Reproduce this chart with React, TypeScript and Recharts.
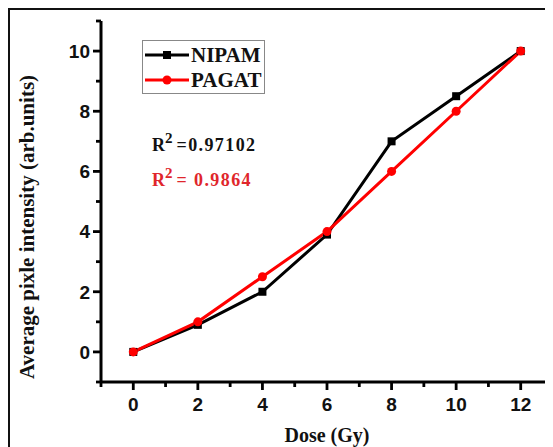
import { Line, LineChart, XAxis, YAxis } from "recharts";

const doses = [0, 2, 4, 6, 8, 10, 12];
const nipam = [0, 0.9, 2, 3.9, 7, 8.5, 10];
const pagat = [0, 1, 2.5, 4, 6, 8, 10];
const xTicks = [-1, 0, 1, 2, 3, 4, 5, 6, 7, 8, 9, 10, 11, 12, 13];
const yTicks = [-1, 0, 1, 2, 3, 4, 5, 6, 7, 8, 9, 10, 11];
const xLabelTicks = [0, 2, 4, 6, 8, 10, 12];
const yLabelTicks = [0, 2, 4, 6, 8, 10];

const data = doses.map((dose, i) => ({ dose, nipam: nipam[i], pagat: pagat[i] }));

const RED = "#ff0000";
const serif = "'Liberation Serif', 'Times New Roman', serif";
const sans = "'Liberation Sans', Arial, sans-serif";

function XTick(props: any) {
  const { x, y, payload } = props;
  const major = xLabelTicks.includes(payload.value);
  return (
    <g>
      <line x1={x} y1={y} x2={x} y2={y + (major ? 8 : 5)} stroke="#000" strokeWidth={2.8} />
      {major && (
        <text x={x} y={y + 22} dy="0.36em" textAnchor="middle" fontFamily={sans} fontWeight="bold" fontSize={19} fill="#111">
          {payload.value}
        </text>
      )}
    </g>
  );
}

function YTick(props: any) {
  const { x, y, payload } = props;
  const major = yLabelTicks.includes(payload.value);
  return (
    <g>
      <line x1={x} y1={y} x2={x - (major ? 8 : 5)} y2={y} stroke="#000" strokeWidth={2.8} />
      {major && (
        <text x={x - 11} y={y} dy="0.36em" textAnchor="end" fontFamily={sans} fontWeight="bold" fontSize={19} fill="#111">
          {payload.value}
        </text>
      )}
    </g>
  );
}

function SquareDot(p: any) {
  return <rect key={`sq-${p.index}`} x={p.cx - 4} y={p.cy - 4} width={8} height={8} fill="#000" />;
}

// legend box drawn straight into the svg so it takes no layout space
function LegendBox() {
  return (
    <g transform="translate(142 40)">
      <rect x={0.5} y={0.5} width={122} height={53} fill="#fff" stroke="#888" strokeWidth={1} />
      <line x1={3} y1={15} x2={47} y2={15} stroke="#000" strokeWidth={3} />
      <rect x={21} y={11} width={8} height={8} fill="#000" />
      <text x={49} y={15} dy="0.35em" fontFamily={serif} fontWeight="bold" fontSize={21} fill="#111">
        NIPAM
      </text>
      <line x1={3} y1={40} x2={47} y2={40} stroke={RED} strokeWidth={3} />
      <circle cx={25} cy={40} r={4.5} fill={RED} />
      <text x={49} y={40} dy="0.35em" fontFamily={serif} fontWeight="bold" fontSize={21} fill="#111">
        PAGAT
      </text>
    </g>
  );
}

export default function App() {
  return (
    <div
      style={{
        position: "relative",
        width: 545,
        height: 439,
        boxSizing: "border-box",
        borderTop: "2px solid #111",
        borderLeft: "2px solid #111",
        background: "#fff",
      }}
    >
      <div style={{ position: "absolute", left: -10, top: -10 }}>
        <LineChart width={553} height={447} data={data} margin={{ top: 21, right: 0, bottom: 5, left: 0 }}>
          <XAxis
            dataKey="dose"
            type="number"
            domain={[-1, 13]}
            ticks={xTicks}
            interval={0}
            allowDataOverflow
            height={60}
            tickSize={0}
            tickMargin={0}
            tickLine={false}
            axisLine={{ stroke: "#000", strokeWidth: 3 }}
            tick={XTick}
          />
          <YAxis
            type="number"
            domain={[-1, 11]}
            ticks={yTicks}
            interval={0}
            allowDataOverflow
            width={101}
            tickSize={0}
            tickMargin={0}
            tickLine={false}
            axisLine={{ stroke: "#000", strokeWidth: 3 }}
            tick={YTick}
          />
          <Line
            dataKey="nipam"
            name="NIPAM"
            type="linear"
            stroke="#000"
            strokeWidth={3}
            dot={SquareDot}
            activeDot={false}
            isAnimationActive={false}
          />
          <Line
            dataKey="pagat"
            name="PAGAT"
            type="linear"
            stroke={RED}
            strokeWidth={3}
            dot={{ r: 4.5, fill: RED, stroke: RED, strokeWidth: 0 }}
            activeDot={false}
            isAnimationActive={false}
          />
          <LegendBox />
          <text x={152} y={151} fontFamily={serif} fontWeight="bold" fontSize={18} fill="#111">
            <tspan>R</tspan>
            <tspan dy={-8} fontSize={15}>2</tspan>
            <tspan dy={8} dx={4} letterSpacing={1.4}>=0.97102</tspan>
          </text>
          <text x={152} y={186} fontFamily={serif} fontWeight="bold" fontSize={18} fill="#e0262b">
            <tspan>R</tspan>
            <tspan dy={-8} fontSize={15}>2</tspan>
            <tspan dy={8} dx={4} letterSpacing={1.4}>= 0.9864</tspan>
          </text>
          <text
            x={27}
            y={227}
            transform="rotate(-90 27 227)"
            textAnchor="middle"
            dominantBaseline="central"
            fontFamily={serif}
            fontWeight="bold"
            fontSize={21}
            fill="#111"
          >
            Average pixle intensity (arb.units)
          </text>
          <text x={327} y={442} textAnchor="middle" fontFamily={serif} fontWeight="bold" fontSize={20} fill="#111">
            Dose (Gy)
          </text>
        </LineChart>
      </div>
    </div>
  );
}
